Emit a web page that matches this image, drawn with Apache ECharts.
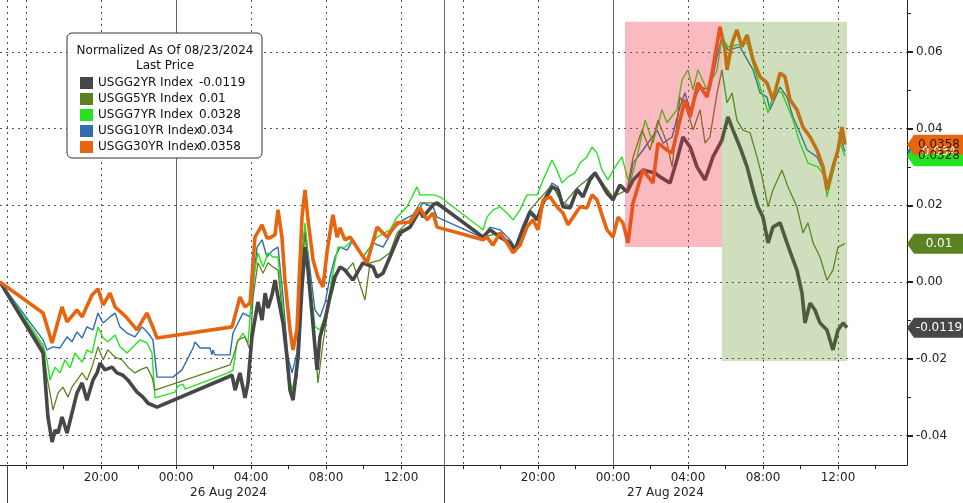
<!DOCTYPE html>
<html><head><meta charset="utf-8">
<script src="https://cdn.jsdelivr.net/npm/echarts@6/dist/echarts.min.js"></script>
<style>html,body{margin:0;padding:0;background:#fff}#c{width:963px;height:503px}</style>
</head><body><div id="c"></div>
<script>
// ---- data (x = hours relative to 26 Aug 2024 00:00, y = change since 08/23/2024) ----
const seriesNames = ['USGG2YR Index','USGG5YR Index','USGG7YR Index','USGG10YR Index','USGG30YR Index'];
const lastPrices = [-0.0119, 0.01, 0.0328, 0.034, 0.0358];

const usgg2yr = [[-9.39,0],[-7.09,-0.0185],[-6.83,-0.0352],[-6.61,-0.0417],[-6.45,-0.0386],[-6.29,-0.0394],[-6.08,-0.0352],[-5.81,-0.0394],[-5.55,-0.0342],[-5.28,-0.0289],[-5.01,-0.0263],[-4.75,-0.0308],[-4.43,-0.0256],[-4.21,-0.0237],[-4.05,-0.0211],[-3.79,-0.0229],[-3.41,-0.0222],[-3.15,-0.0237],[-2.83,-0.0243],[-2.56,-0.0256],[-2.08,-0.0287],[-1.76,-0.0300],[-1.49,-0.0316],[-1.01,-0.0326],[2.99,-0.0243],[3.15,-0.0282],[3.41,-0.0237],[3.68,-0.0302],[3.84,-0.0263],[4.05,-0.0143],[4.37,-0.0052],[4.59,-0.0099],[4.75,-0.0029],[4.91,-0.0068],[5.12,-0.0034],[5.28,0.0005],[5.44,-0.0039],[5.71,-0.0107],[5.92,-0.0196],[6.08,-0.0282],[6.24,-0.0308],[6.51,-0.0196],[6.72,-0.0013],[6.88,0.0091],[7.04,0.0031],[7.25,-0.0081],[7.52,-0.0229],[7.68,-0.0143],[7.95,-0.0099],[8.21,-0.0039],[8.48,0.0013],[8.75,0.0039],[9.01,0.0031],[9.44,0.0005],[9.97,0.0050],[10.51,0.0039],[10.72,0.0013],[11.04,0.0023],[11.41,0.0065],[11.95,0.0128],[12.48,0.0143],[13.01,0.0188],[13.17,0.0169],[13.71,0.0201],[13.92,0.0206],[17.07,0.0117],[17.44,0.0136],[17.97,0.0117],[18.51,0.0102],[18.77,0.0083],[19.20,0.0136],[19.57,0.0183],[19.95,0.0162],[20.27,0.0206],[20.75,0.0248],[21.07,0.0240],[21.33,0.0196],[21.71,0.0193],[22.08,0.0240],[22.40,0.0222],[22.77,0.0266],[23.04,0.0284],[23.31,0.0263],[23.68,0.0232],[24.00,0.0214],[24.37,0.0253],[24.75,0.0235],[25.07,0.0266],[25.60,0.0292],[26.24,0.0284],[26.51,0.0274],[27.04,0.0258],[27.41,0.0318],[27.73,0.0378],[28.11,0.0352],[28.48,0.0300],[28.91,0.0266],[29.33,0.0326],[29.81,0.0370],[30.13,0.0430],[30.40,0.0396],[30.77,0.0352],[31.15,0.0300],[31.47,0.0240],[31.73,0.0196],[32.00,0.0169],[32.27,0.0102],[32.53,0.0143],[32.91,0.0154],[33.28,0.0102],[33.55,0.0065],[33.81,0.0031],[34.08,-0.0029],[34.24,-0.0107],[34.51,-0.0055],[34.77,-0.0073],[35.04,-0.0107],[35.41,-0.0125],[35.73,-0.0177],[36.00,-0.0125],[36.27,-0.0107],[36.48,-0.0119]];

const usgg5yr = [[-9.39,0],[-7.09,-0.0172],[-6.88,-0.0248],[-6.72,-0.0289],[-6.56,-0.0334],[-6.29,-0.0289],[-6.03,-0.0274],[-5.76,-0.0300],[-5.55,-0.0274],[-5.28,-0.0256],[-5.01,-0.0237],[-4.75,-0.0256],[-4.48,-0.0222],[-4.16,-0.0169],[-3.89,-0.0203],[-3.63,-0.0177],[-3.25,-0.0196],[-2.88,-0.0203],[-2.56,-0.0222],[-2.19,-0.0237],[-1.92,-0.0229],[-1.55,-0.0222],[-1.28,-0.0248],[-1.12,-0.0282],[2.88,-0.0216],[3.04,-0.0196],[3.31,-0.0151],[3.68,-0.0143],[3.95,-0.0177],[4.11,-0.0039],[4.37,0.0050],[4.64,0.0023],[4.91,0.0050],[5.17,0.0039],[5.44,0.0031],[5.71,-0.0099],[5.97,-0.0248],[6.19,-0.0308],[6.45,-0.0248],[6.72,0.0031],[6.88,0.0128],[7.15,-0.0021],[7.41,-0.0159],[7.57,-0.0263],[7.84,-0.0159],[8.11,-0.0073],[8.37,0.0013],[8.75,0.0039],[9.12,0.0031],[9.44,0.0050],[10.08,-0.0047],[10.35,0.0050],[10.88,0.0057],[11.41,0.0076],[11.79,0.0128],[12.48,0.0162],[13.01,0.0206],[13.71,0.0206],[14.08,0.0196],[17.07,0.0117],[17.97,0.0128],[18.77,0.0083],[19.57,0.0188],[20.75,0.0253],[21.33,0.0201],[22.08,0.0245],[23.04,0.0284],[24.00,0.0222],[24.75,0.0240],[25.07,0.0326],[25.55,0.0396],[25.97,0.0344],[26.40,0.0422],[26.88,0.0362],[27.15,0.0300],[27.57,0.0482],[27.95,0.0449],[28.27,0.0396],[28.64,0.0449],[28.91,0.0362],[29.17,0.0378],[29.55,0.0493],[29.81,0.0553],[30.08,0.0467],[30.35,0.0493],[30.61,0.0422],[30.93,0.0396],[31.31,0.0389],[31.68,0.0326],[31.95,0.0274],[32.27,0.0196],[32.53,0.0240],[33.01,0.0292],[33.33,0.0248],[33.81,0.0196],[34.13,0.0128],[34.40,0.0154],[34.67,0.0102],[35.04,0.0065],[35.41,0.0005],[35.73,0.0031],[36.00,0.0091],[36.37,0.0100]];

const usgg7yr = [[-9.39,0],[-7.09,-0.0164],[-6.88,-0.0203],[-6.72,-0.0256],[-6.45,-0.0222],[-6.19,-0.0237],[-5.92,-0.0203],[-5.65,-0.0224],[-5.39,-0.0185],[-5.01,-0.0209],[-4.75,-0.0177],[-4.48,-0.0185],[-4.16,-0.0117],[-3.89,-0.0146],[-3.63,-0.0156],[-3.25,-0.0138],[-2.99,-0.0169],[-2.61,-0.0185],[-2.29,-0.0169],[-1.92,-0.0151],[-1.55,-0.0159],[-1.28,-0.0185],[-1.12,-0.0302],[-0.05,-0.0287],[0.11,-0.0271],[0.37,-0.0266],[0.48,-0.0279],[2.88,-0.0235],[3.04,-0.0229],[3.25,-0.0159],[3.57,-0.0133],[3.84,-0.0159],[4.11,0.0005],[4.37,0.0076],[4.64,0.0039],[4.91,0.0076],[5.17,0.0065],[5.44,0.0065],[5.71,-0.0073],[5.97,-0.0229],[6.19,-0.0282],[6.45,-0.0229],[6.72,0.0050],[6.88,0.0154],[7.15,0.0005],[7.41,-0.0117],[7.68,-0.0125],[8.05,-0.0073],[8.32,0.0013],[8.64,0.0091],[9.01,0.0091],[9.44,0.0110],[9.97,0.0065],[10.72,0.0117],[11.41,0.0136],[11.79,0.0169],[12.32,0.0196],[12.85,0.0248],[13.01,0.0227],[13.71,0.0227],[14.08,0.0222],[17.07,0.0136],[17.28,0.0169],[17.60,0.0188],[17.97,0.0196],[18.35,0.0180],[18.67,0.0162],[19.04,0.0188],[19.41,0.0227],[19.95,0.0227],[20.27,0.0266],[20.75,0.0318],[21.01,0.0292],[21.28,0.0258],[21.60,0.0274],[21.97,0.0284],[22.24,0.0310],[22.61,0.0326],[22.88,0.0352],[23.15,0.0336],[23.41,0.0292],[23.73,0.0266],[24.11,0.0300],[24.48,0.0326],[24.75,0.0274],[24.91,0.0258],[25.28,0.0326],[25.71,0.0422],[26.13,0.0362],[26.61,0.0449],[26.88,0.0415],[27.41,0.0449],[27.68,0.0527],[28.00,0.0553],[28.27,0.0501],[28.53,0.0553],[29.01,0.0501],[29.55,0.0553],[29.81,0.0639],[30.13,0.0613],[31.15,0.0623],[31.68,0.0535],[32.27,0.0441],[32.64,0.0501],[33.01,0.0493],[33.60,0.0422],[33.97,0.0362],[34.40,0.0310],[34.93,0.0300],[35.31,0.0274],[35.41,0.0222],[35.73,0.0284],[36.11,0.0362],[36.37,0.0328]];

const usgg10yr = [[-9.39,0],[-7.09,-0.0151],[-6.88,-0.0177],[-6.56,-0.0169],[-6.19,-0.0172],[-5.81,-0.0143],[-5.55,-0.0156],[-5.28,-0.0130],[-5.01,-0.0146],[-4.75,-0.0117],[-4.43,-0.0125],[-4.16,-0.0081],[-3.89,-0.0107],[-3.52,-0.0091],[-3.25,-0.0081],[-2.99,-0.0117],[-2.61,-0.0133],[-2.19,-0.0143],[-1.81,-0.0117],[-1.49,-0.0133],[-1.23,-0.0151],[-1.01,-0.0248],[-0.16,-0.0248],[0.32,-0.0229],[0.91,-0.0172],[1.01,-0.0156],[1.28,-0.0172],[1.81,-0.0172],[1.92,-0.0190],[1.97,-0.0177],[2.08,-0.0190],[2.88,-0.0190],[3.04,-0.0133],[3.57,-0.0081],[3.95,-0.0091],[4.32,0.0091],[4.59,0.0110],[4.85,0.0065],[5.17,0.0083],[5.44,0.0091],[5.71,-0.0039],[5.97,-0.0196],[6.19,-0.0237],[6.45,-0.0185],[6.72,0.0076],[6.88,0.0143],[7.15,0.0031],[7.41,-0.0073],[7.68,-0.0091],[7.95,-0.0055],[8.21,0.0013],[8.48,0.0065],[8.75,0.0091],[9.12,0.0083],[9.44,0.0110],[9.97,0.0065],[10.51,0.0102],[11.04,0.0091],[11.57,0.0136],[12.11,0.0162],[12.85,0.0180],[13.17,0.0206],[13.71,0.0196],[13.92,0.0169],[17.07,0.0115],[17.44,0.0143],[17.97,0.0136],[18.51,0.0110],[18.77,0.0091],[19.15,0.0143],[19.57,0.0188],[19.95,0.0169],[20.27,0.0214],[20.75,0.0258],[21.07,0.0248],[21.33,0.0206],[21.81,0.0196],[22.08,0.0245],[22.40,0.0227],[22.77,0.0274],[23.04,0.0287],[23.31,0.0266],[23.68,0.0232],[24.00,0.0214],[24.37,0.0248],[24.75,0.0232],[25.07,0.0310],[25.60,0.0344],[26.35,0.0396],[26.67,0.0362],[27.15,0.0378],[27.57,0.0456],[27.84,0.0493],[28.11,0.0449],[28.64,0.0508],[29.17,0.0501],[29.55,0.0587],[29.81,0.0639],[30.13,0.0605],[30.77,0.0613],[31.47,0.0553],[31.84,0.0493],[32.21,0.0482],[32.37,0.0449],[32.91,0.0508],[33.28,0.0482],[33.60,0.0430],[33.97,0.0389],[34.35,0.0344],[34.88,0.0326],[35.20,0.0292],[35.47,0.0258],[35.73,0.0292],[36.11,0.0378],[36.37,0.0340]];

const usgg30yr = [[-9.39,0],[-7.09,-0.0081],[-6.61,-0.0159],[-6.08,-0.0065],[-5.81,-0.0104],[-5.28,-0.0073],[-5.01,-0.0091],[-4.48,-0.0034],[-4.16,-0.0018],[-3.89,-0.0060],[-3.52,-0.0029],[-3.25,-0.0065],[-2.88,-0.0081],[-2.61,-0.0094],[-2.08,-0.0125],[-1.55,-0.0081],[-1.28,-0.0112],[-1.01,-0.0146],[2.99,-0.0117],[3.41,-0.0039],[3.68,-0.0065],[3.95,-0.0055],[4.21,0.0117],[4.37,0.0130],[4.59,0.0149],[4.85,0.0115],[5.01,0.0115],[5.28,0.0123],[5.44,0.0188],[5.65,0.0117],[5.81,0.0005],[6.08,-0.0125],[6.24,-0.0177],[6.45,-0.0125],[6.72,0.0169],[6.88,0.0240],[7.04,0.0162],[7.31,0.0057],[7.57,0.0013],[7.84,-0.0013],[8.05,0.0076],[8.21,0.0128],[8.37,0.0175],[8.59,0.0117],[8.75,0.0141],[9.01,0.0110],[9.28,0.0117],[10.19,0.0050],[10.72,0.0143],[11.25,0.0117],[11.79,0.0154],[12.48,0.0156],[13.01,0.0193],[13.39,0.0162],[13.71,0.0180],[13.92,0.0143],[17.07,0.0110],[17.28,0.0117],[17.60,0.0096],[17.97,0.0128],[18.35,0.0102],[18.67,0.0076],[19.04,0.0096],[19.41,0.0143],[19.73,0.0162],[20.00,0.0136],[20.27,0.0214],[20.64,0.0222],[21.01,0.0196],[21.33,0.0180],[21.60,0.0149],[21.87,0.0169],[22.24,0.0196],[22.61,0.0193],[22.88,0.0227],[23.15,0.0214],[23.41,0.0175],[23.68,0.0136],[24.00,0.0117],[24.27,0.0169],[24.53,0.0154],[24.80,0.0102],[25.07,0.0206],[25.60,0.0292],[26.13,0.0258],[26.40,0.0362],[26.88,0.0344],[27.15,0.0336],[27.57,0.0422],[27.84,0.0475],[28.11,0.0430],[28.53,0.0519],[29.01,0.0482],[29.28,0.0545],[29.71,0.0665],[29.97,0.0605],[30.08,0.0553],[30.35,0.0623],[30.61,0.0657],[30.88,0.0613],[31.15,0.0644],[31.47,0.0579],[31.84,0.0535],[32.21,0.0519],[32.53,0.0475],[32.91,0.0545],[33.17,0.0535],[33.44,0.0475],[33.81,0.0449],[34.13,0.0404],[34.51,0.0378],[34.88,0.0344],[35.20,0.0300],[35.41,0.0240],[35.73,0.0300],[36.00,0.0344],[36.21,0.0404],[36.37,0.0358]];

// shaded windows (hours, yield)
const shadeFrom   = [24.64, 29.81];
const shadeTo     = [29.81, 36.48];
const shadeTop    = [0.0678, 0.0678];
const shadeBottom = [0.0091, -0.0206];

// axis ticks (hours)
const tickHours  = [-8,-6,-4,-2,0,2,4,6,8,10,12,16,18,20,22,24,26,28,30,32,34,36,38];
const labelHours = [-4,0,4,8,12,20,24,28,32,36];
const gridHours  = [-9.01,-8,-4,4,8,12,16,20,28,32,36];
const dayStarts  = [0, 24];
const dateLabels = ['26 Aug 2024','27 Aug 2024'];
const sessionBreaks = [-9.01, 14.29];
const yTicks = [-0.04,-0.02,0,0.02,0.04,0.06];
const yMinorTicks = [-0.03,-0.01,0.01,0.03,0.05,0.07];
const xStart = -9.387, xEnd = 39.68, yMin = -0.0477, yMax = 0.0735;

// compressed-time axis: the gap between the two sessions on 26 Aug is removed
const GAP_AT = 14.5, GAP = 0.693;
const toAxis = h => h > GAP_AT ? h - GAP : h;
const fromAxis = d => d > 14.295 ? d + GAP : d;
const conv = arr => arr.map(p => [toAxis(p[0]), p[1]]);

const colors = ['#474747','#5b8220','#27e21f','#2f6cb0','#e8650f'];
const tagText = ['#ffffff','#ffffff','#0a2a0a','#ffffff','#3a1200'];
const widths = [3.6, 1.3, 1.4, 1.4, 3.6];
const allData = [usgg2yr, usgg5yr, usgg7yr, usgg10yr, usgg30yr];
const FONT = '"DejaVu Sans", Verdana, sans-serif';
const xMaxAxis = toAxis(xEnd);

function mkSeries(i) {
  return {
    name: seriesNames[i], type: 'line', data: conv(allData[i]),
    showSymbol: false, symbol: 'none', clip: false, z: 2,
    lineStyle: { color: colors[i], width: widths[i] },
    itemStyle: { color: colors[i] },
    emphasis: { disabled: true },
    markPoint: {
      symbol: 'path://M0,10 L7,0 L60,0 L60,20 L7,20 Z',
      symbolSize: [60, 20], symbolKeepAspect: false, symbolOffset: [30, 0],
      itemStyle: { color: colors[i] },
      label: { show: true, position: 'inside', color: tagText[i], fontSize: 12, fontFamily: FONT,
               formatter: () => String(lastPrices[i]), offset: [2, 0] },
      data: [{ coord: [xMaxAxis, lastPrices[i]] }]
    }
  };
}
// draw order: 10Y, 7Y, 5Y, 2Y, 30Y on top
const order = [3, 2, 1, 0, 4];
const series = order.map(mkSeries);
series.push({
  name: 'shade', type: 'line', data: [], z: 8, silent: true,
  markArea: {
    silent: true, z: 8,
    data: shadeFrom.map((f, k) => [
      { xAxis: toAxis(f), yAxis: shadeTop[k], itemStyle: { color: k === 0 ? 'rgba(236,50,62,0.33)' : 'rgba(95,150,35,0.30)' } },
      { xAxis: toAxis(shadeTo[k]), yAxis: shadeBottom[k] }
    ])
  }
});

const pad = n => (n < 10 ? '0' : '') + n;
const baseX = { type: 'value', min: toAxis(xStart), max: xMaxAxis, gridIndex: 0, position: 'bottom' };

const option = {
  animation: false,
  backgroundColor: '#ffffff',
  grid: { left: 0, right: 56, top: 0, bottom: 38, containLabel: false },
  xAxis: [
    Object.assign({}, baseX, {
      axisLine: { onZero: false, lineStyle: { color: '#222', width: 1 } },
      axisTick: { show: true, length: 4, customValues: tickHours.map(toAxis), lineStyle: { color: '#222' } },
      axisLabel: { show: true, customValues: labelHours.map(toAxis), margin: 7, color: '#222', fontSize: 12, fontFamily: FONT,
        formatter: v => { const h = Math.round(fromAxis(v)); return pad(((h % 24) + 24) % 24) + ':00'; } },
      splitLine: { show: false }
    }),
    Object.assign({}, baseX, {
      axisLine: { show: false, onZero: false },
      axisTick: { show: false, customValues: gridHours.map(toAxis) },
      axisLabel: { show: false },
      splitLine: { show: true, lineStyle: { color: '#555', type: [2, 4], width: 1 } }
    }),
    Object.assign({}, baseX, {
      axisLine: { show: false, onZero: false },
      axisTick: { show: false, customValues: dayStarts.concat([sessionBreaks[1]]).map(toAxis) },
      axisLabel: { show: false },
      splitLine: { show: true, lineStyle: { color: '#666', type: 'solid', width: 1 } }
    }),
    Object.assign({}, baseX, {
      axisLine: { show: false, onZero: false },
      axisTick: { show: true, length: 40, customValues: sessionBreaks.map(toAxis), lineStyle: { color: '#444' } },
      axisLabel: { show: false },
      splitLine: { show: false }
    }),
    Object.assign({}, baseX, {
      axisLine: { show: false, onZero: false },
      axisTick: { show: false },
      axisLabel: { show: true, customValues: dayStarts.map(toAxis), margin: 22, color: '#222', fontSize: 12, fontFamily: FONT,
        align: 'left', padding: [0, 0, 0, 14],
        formatter: v => dateLabels[v < 12 ? 0 : 1] },
      splitLine: { show: false }
    })
  ],
  yAxis: [
    { type: 'value', min: yMin, max: yMax, position: 'right', gridIndex: 0,
      axisLine: { show: true, onZero: false, lineStyle: { color: '#222' } },
      axisTick: { show: true, length: 6, customValues: yTicks, lineStyle: { color: '#222', width: 2 } },
      axisLabel: { show: true, customValues: yTicks, margin: 9, color: '#222', fontSize: 12, fontFamily: FONT,
        formatter: v => v.toFixed(2) },
      splitLine: { show: true, lineStyle: { color: '#555', type: [2, 4], width: 1 } } },
    { type: 'value', min: yMin, max: yMax, position: 'right', gridIndex: 0,
      axisLine: { show: false, onZero: false },
      axisTick: { show: true, length: 4, customValues: yMinorTicks, lineStyle: { color: '#222' } },
      axisLabel: { show: false }, splitLine: { show: false } }
  ],
  legend: {
    data: seriesNames, orient: 'vertical', left: 75, top: 72, z: 110,
    itemWidth: 13, itemHeight: 12, itemGap: 4, icon: 'rect', selectedMode: false,
    textStyle: { fontFamily: FONT, fontSize: 12, color: '#111', rich: { n: { width: 101, fontFamily: FONT, fontSize: 12 }, v: { fontFamily: FONT, fontSize: 12 } } },
    formatter: name => '{n|' + name + '}{v|' + String(lastPrices[seriesNames.indexOf(name)]) + '}'
  },
  graphic: [
    { type: 'rect', z: 100, shape: { x: 67, y: 33, width: 195, height: 125, r: 5 }, style: { fill: '#fff', stroke: '#333', lineWidth: 1 } },
    { type: 'text', z: 110, x: 165, y: 51, style: { text: 'Normalized As Of 08/23/2024', align: 'center', verticalAlign: 'middle', fontSize: 12, fontFamily: FONT, fill: '#111' } },
    { type: 'text', z: 110, x: 165, y: 66, style: { text: 'Last Price', align: 'center', verticalAlign: 'middle', fontSize: 12, fontFamily: FONT, fill: '#111' } }
  ],
  series: series
};
const chart = echarts.init(document.getElementById('c'), null, { renderer: 'canvas' });
chart.setOption(option);
</script></body></html>
